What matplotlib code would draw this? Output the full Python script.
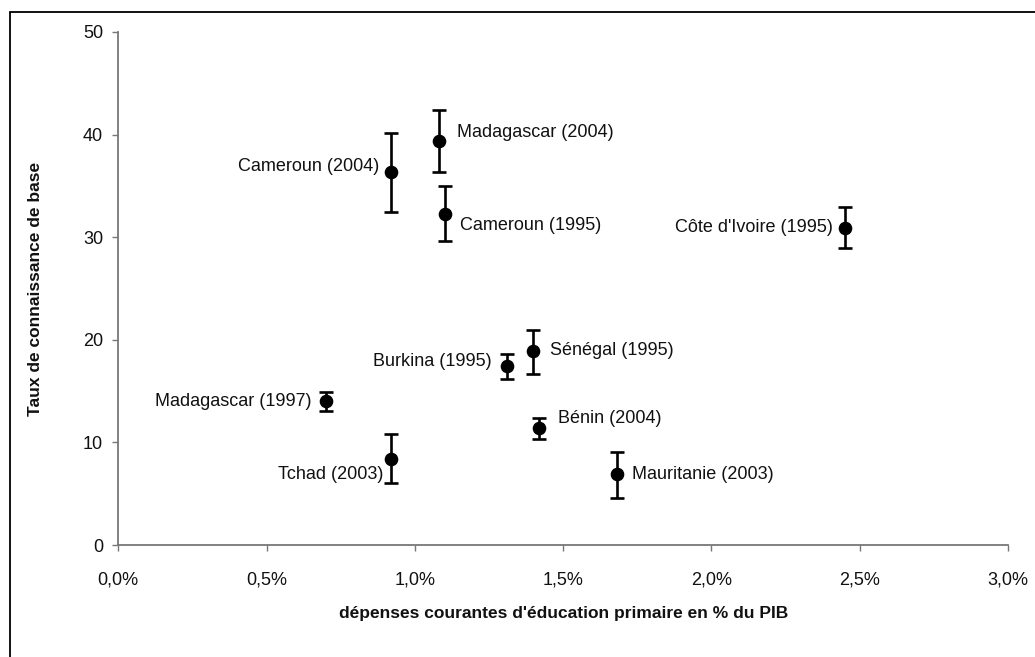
import matplotlib
matplotlib.use("Agg")
import matplotlib.pyplot as plt
from matplotlib.patches import Rectangle
from matplotlib.ticker import FuncFormatter

plt.rcParams['font.family'] = ['Liberation Sans Narrow', 'Liberation Sans', 'DejaVu Sans']

# Country / survey year
labels = ["Cameroun (2004)", "Madagascar (2004)", "Cameroun (1995)", "Côte d'Ivoire (1995)",
          "Sénégal (1995)", "Burkina (1995)", "Madagascar (1997)", "Bénin (2004)",
          "Tchad (2003)", "Mauritanie (2003)"]
# Current primary education spending, % of GDP
spending = [0.92, 1.08, 1.10, 2.45, 1.40, 1.31, 0.70, 1.42, 0.92, 1.68]
# Basic knowledge rate
rate = [36.4, 39.4, 32.3, 30.9, 18.9, 17.4, 14.0, 11.4, 8.4, 6.9]
# Confidence interval bounds
rate_low = [32.5, 36.4, 29.6, 28.9, 16.7, 16.2, 13.1, 10.3, 6.0, 4.6]
rate_high = [40.2, 42.4, 35.0, 32.9, 21.0, 18.6, 14.9, 12.4, 10.8, 9.1]

x_ticks = [0.0, 0.5, 1.0, 1.5, 2.0, 2.5, 3.0]
y_ticks = [0, 10, 20, 30, 40, 50]

# label placement (offset in pixels, horizontal alignment)
label_pos = [(-12, 5, 'right'), (18, 8, 'left'), (15, -12, 'left'), (-12, 0, 'right'),
             (17, 1, 'left'), (-15, 5, 'right'), (-14, 0, 'right'), (19, 10, 'left'),
             (-8, -16, 'right'), (15, 0, 'left')]

fig = plt.figure(figsize=(10.35, 6.57), dpi=100)
ax = fig.add_axes([118.3 / 1035, 1 - 545 / 657, (1008 - 118.3) / 1035, (545 - 32) / 657])

err_lo = [r - lo for r, lo in zip(rate, rate_low)]
err_hi = [hi - r for r, hi in zip(rate, rate_high)]
ax.errorbar(spending, rate, yerr=[err_lo, err_hi], fmt='o', color='black',
            markersize=8.8, elinewidth=1.9, capsize=5.2, capthick=1.9, zorder=3)

for x, y, lab, (dx, dy, ha) in zip(spending, rate, labels, label_pos):
    ax.annotate(lab, (x, y), xytext=(dx, dy), textcoords='offset pixels',
                ha=ha, va='center', fontsize=13, color='#111111')

ax.set_xlim(0, 3.0)
ax.set_ylim(0, 50)
ax.set_xticks(x_ticks)
ax.set_yticks(y_ticks)
ax.xaxis.set_major_formatter(FuncFormatter(lambda v, p: f"{v:.1f}%".replace('.', ',')))

for side in ('top', 'right'):
    ax.spines[side].set_visible(False)
for side in ('left', 'bottom'):
    ax.spines[side].set_color('#777777')
    ax.spines[side].set_linewidth(1.3)
ax.tick_params(axis='both', colors='#777777', labelcolor='#111111', labelsize=13,
               length=4, width=1.0)
ax.tick_params(axis='x', pad=15)
ax.tick_params(axis='y', pad=7)

ax.set_xlabel("dépenses courantes d'éducation primaire en % du PIB", fontsize=12.5,
              fontweight='bold', labelpad=13, color='#111111')
ax.set_ylabel("Taux de connaissance de base", fontsize=12.5, fontweight='bold',
              labelpad=29, color='#111111')

# outer frame of the chart area
fig.patches.append(Rectangle((10 / 1035, -0.1), 2.0, 1.1 - 12 / 657, transform=fig.transFigure,
                             fill=False, edgecolor='black', linewidth=1.3))

fig.savefig("out.png", dpi=100)
